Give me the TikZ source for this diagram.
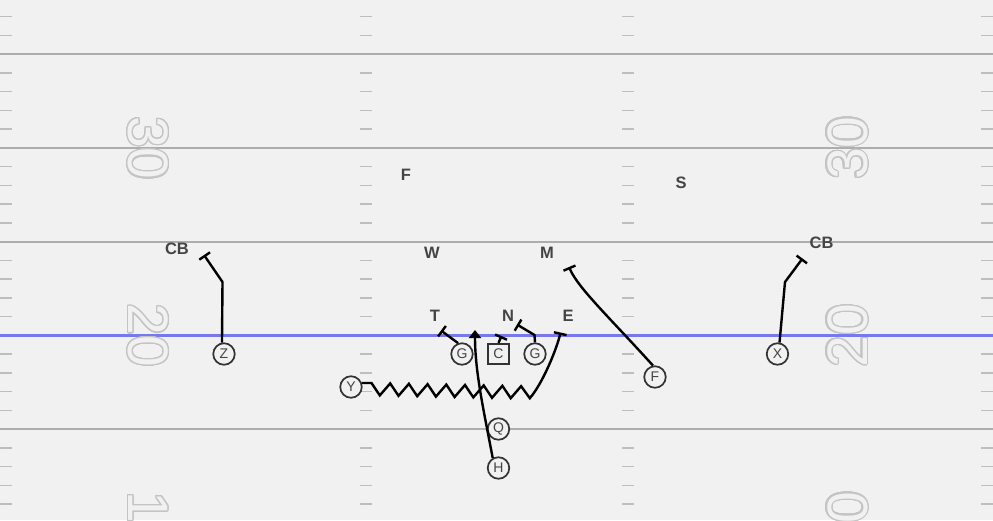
\documentclass[tikz,border=0pt]{standalone}
\usepackage{fontspec}
\setmainfont{Liberation Sans}
\usepackage{contour}
\usetikzlibrary{positioning, arrows.meta}
\definecolor{fieldbg}{HTML}{F1F1F1}
\definecolor{yard}{HTML}{ADADAD}
\definecolor{hash}{HTML}{BEBEBE}
\definecolor{los}{HTML}{7878EE}
\definecolor{numc}{HTML}{C4C4C4}
\definecolor{ring}{HTML}{333333}
\definecolor{ink}{HTML}{444444}
\contourlength{1.2pt}
\contournumber{24}

\begin{document}
\begin{tikzpicture}[x=1pt, y=-1pt, node distance=36.5pt,
    player/.style={circle, draw=ring, line width=1.7pt, fill=fieldbg, minimum size=21.5pt, inner sep=0pt, text=ink, font=\fontsize{14}{15}\selectfont},
    snapper/.style={player, rectangle, minimum size=20.5pt},
    defender/.style={text=ink, inner sep=0pt, font=\bfseries\fontsize{16.5}{17}\selectfont},
    route/.style={line width=2.4pt, black},
    block/.style={route, -{Bar[width=13pt]}},
    fieldnum/.style={text=fieldbg, inner sep=0pt, font=\fontsize{57}{57}\selectfont},
    yardline/.style={line width=2pt, yard},
    hashmark/.style={line width=1.5pt, hash}]
                        \useasboundingbox (0,0) rectangle (993,520);
                        \clip (0,0) rectangle (993,520);
                        \fill[fieldbg] (0,0) rectangle (993,520);
                        % field
                        \foreach \tx in {0,360,622,981}
                            \foreach \k in {-1,...,4}
                                \foreach \i in {1,...,4}
                                    \draw[hashmark] (\tx,{54+93.75*\k+18.75*\i}) -- ++(12,0);
                        \foreach \k in {0,1,2,4}
                            \draw[yardline] (0,{54+93.75*\k}) -- (993,{54+93.75*\k});
                        \draw[line width=3pt, los] (0,335.25) -- (993,335.25);
                        \node[fieldnum, rotate=-90] (thirtyl) at (147.5,148)   {\contour{numc}{30}};
                        \node[fieldnum, rotate=90]  (thirtyr) at (848,148)     {\contour{numc}{30}};
                        \node[fieldnum, rotate=-90] (twentyl) at (147.5,335.5) {\contour{numc}{20}};
                        \node[fieldnum, rotate=90]  (twentyr) at (848,335.5)   {\contour{numc}{20}};
                        \node[fieldnum, rotate=-90] (tenl)    at (147.5,523)   {\contour{numc}{10}};
                        \node[fieldnum, rotate=90]  (tenr)    at (848,523)     {\contour{numc}{10}};
                        % offense
                        \node[snapper] (c)  at (498.5,354)                       {C};
                        \node[player]  (gl) [left of=c]                          {G};
                        \node[player]  (gr) [right of=c]                         {G};
                        \node[player]  (q)  [below of=c, node distance=75pt]     {Q};
                        \node[player]  (h)  [below of=q, node distance=39pt]     {H};
                        \node[player]  (z)  at (224,354)                         {Z};
                        \node[player]  (x)  at (777.5,354)                       {X};
                        \node[player]  (y)  at (351,387)                         {Y};
                        \node[player]  (f)  at (655,377)                         {F};
                        % defense
                        \node[defender] (cbl) at (177,249)   {CB};
                        \node[defender] (fs)  at (406,175)   {F};
                        \node[defender] (w)   at (432,253)   {W};
                        \node[defender] (m)   at (547,253)   {M};
                        \node[defender] (ss)  at (681,183)   {S};
                        \node[defender] (cbr) at (821.5,243) {CB};
                        \node[defender] (t)   at (435,316)   {T};
                        \node[defender] (n)   at (508,316)   {N};
                        \node[defender] (e)   at (568,316)   {E};
                        % route ends
                        \coordinate (zend)  at (204,255);
                        \coordinate (xend)  at (802.5,258.5);
                        \coordinate (fend)  at (569,267);
                        \coordinate (glend) at (441,330.5);
                        \coordinate (cend)  at (501.5,336);
                        \coordinate (grend) at (517,324.5);
                        \coordinate (yend)  at (560.5,332.5);
                        \coordinate (hend)  at (475,330);
                        % routes
                        \draw[block] (z.100) -- (222.5,282) -- (zend);
                        \draw[block] (x.80)  -- (785,282)   -- (xend);
                        \draw[block] (f.100) .. controls (610,318) and (578,288) .. (fend);
                        \draw[block] (gl.110)   -- (glend);
                        \draw[block] (c.north)  -- (cend);
                        \draw[block] (gr.north) -- (534.5,335) -- (grend);
                        \draw[block] (y.20) -- (371.5,383) \foreach \k in {1,...,8} { -- ++(8.3,12.4) -- ++(10.4,-12) }
                                     -- ++(8.7,12) .. controls (543,383) and (557,348) .. (yend);
                        \draw[route, -{Triangle[width=12pt,length=8pt]}] (h.120) .. controls (484,412) and (475,372) .. (hend);
                    \end{tikzpicture}
\end{document}
